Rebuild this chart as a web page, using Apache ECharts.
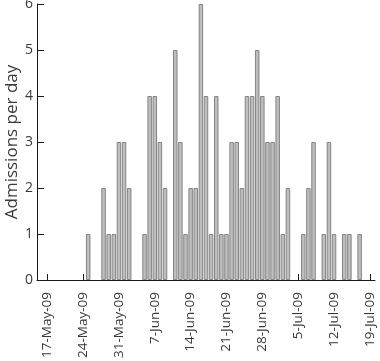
<!DOCTYPE html>
<html>
<head>
<meta charset="utf-8">
<script src="https://cdn.jsdelivr.net/npm/echarts@6/dist/echarts.min.js"></script>
<style>html,body{margin:0;padding:0;background:#fff}#c{width:380px;height:361px}</style>
</head>
<body>
<div id="c"></div>
<script>
// Days from 15-May-09 to 20-Jul-09
const startDate = [2009, 4, 15];
const dayCount = 67;
const monthNames = ['Jan','Feb','Mar','Apr','May','Jun','Jul','Aug','Sep','Oct','Nov','Dec'];
const admissions = [
  0,0,                     // 15-16 May
  0,0,0,0,0,0,0,0,         // 17-24 May
  1,0,0,2,1,1,3,           // 25-31 May
  3,2,0,0,1,4,4,3,2,0,     // 1-10 Jun
  5,3,1,2,2,6,4,1,4,1,     // 11-20 Jun
  1,3,3,2,4,4,5,4,3,3,     // 21-30 Jun
  4,1,2,0,0,1,2,3,0,1,     // 1-10 Jul
  3,1,0,1,1,0,1,0,0,0      // 11-20 Jul
];
const yTicks = [0,1,2,3,4,5,6];
const yTitle = 'Admissions per day';

const categories = [];
for (let i = 0; i < dayCount; i++) {
  const d = new Date(startDate[0], startDate[1], startDate[2] + i);
  categories.push(d.getDate() + '-' + monthNames[d.getMonth()] + '-' + String(d.getFullYear()).slice(2));
}
const firstTick = 2; // 17-May-09
const tickStep = 7;
const showTick = (idx) => idx >= firstTick && (idx - firstTick) % tickStep === 0;

const font = 'Open Sans';
const chart = echarts.init(document.getElementById('c'));
chart.setOption({
  animation: false,
  backgroundColor: '#fff',
  grid: {left: 37, right: 5, top: 4, bottom: 81, containLabel: false, outerBoundsMode: 'none'},
  xAxis: {
    type: 'category',
    data: categories,
    boundaryGap: false,
    axisLine: {lineStyle: {color: '#1a1a1a', width: 1}},
    axisTick: {inside: true, length: 6, interval: showTick, lineStyle: {color: '#1a1a1a'}},
    axisLabel: {interval: showTick, rotate: 90, margin: 12, fontSize: 13.5, fontFamily: font, color: '#3a3a3a'},
    splitLine: {show: false}
  },
  yAxis: {
    type: 'value',
    min: yTicks[0], max: yTicks[yTicks.length - 1], interval: 1,
    name: yTitle, nameLocation: 'middle', nameGap: 16, nameRotate: 90,
    nameMoveOverlap: false,
    nameTextStyle: {fontSize: 17, fontFamily: font, color: '#3a3a3a'},
    axisLine: {show: true, lineStyle: {color: '#1a1a1a', width: 1}},
    axisTick: {show: true, inside: true, length: 7, lineStyle: {color: '#1a1a1a'}},
    axisLabel: {margin: 4, fontSize: 14, fontFamily: font, color: '#3a3a3a'},
    splitLine: {show: false}
  },
  series: [{
    type: 'bar',
    data: admissions.map(v => v === 0 ? '-' : v),
    barWidth: '88%',
    itemStyle: {color: '#bebebe', borderColor: '#858585', borderWidth: 1}
  }]
});
</script>
</body>
</html>
